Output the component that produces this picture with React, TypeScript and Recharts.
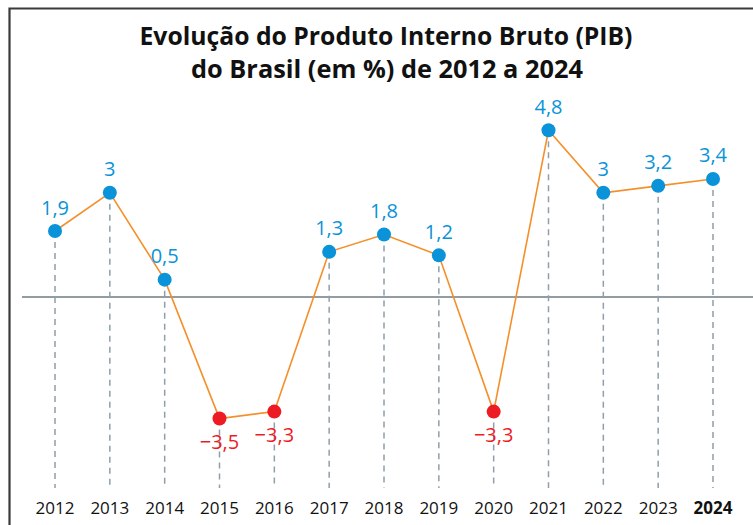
import { LineChart, Line, XAxis, YAxis, ReferenceLine, LabelList } from "recharts";

const years = ["2012", "2013", "2014", "2015", "2016", "2017", "2018", "2019", "2020", "2021", "2022", "2023", "2024"];
const pib = [1.9, 3, 0.5, -3.5, -3.3, 1.3, 1.8, 1.2, -3.3, 4.8, 3, 3.2, 3.4];
const titleLines = ["Evolução do Produto Interno Bruto (PIB)", "do Brasil (em %) de 2012 a 2024"];
const boldYear = "2024";

const W = 753;
const H = 525;
const AXIS_H = 30;
const margin = { top: 106, right: 40, bottom: 7, left: 55 };
const PLOT_BOTTOM = H - margin.bottom - AXIS_H;

const BLUE = "#0a93d8";
const RED = "#ed1c24";
const ORANGE = "#f58f2a";
const DASH = "#8e9fab";

const data = years.map((year, i) => ({ year, value: pib[i] }));

const fmt = (v: number) => (v < 0 ? "\u2212" : "") + String(Math.abs(v)).replace(".", ",");

function DropDot(props: any) {
  const { cx, cy, payload, index } = props;
  const neg = payload.value < 0;
  return (
    <g key={`dot-${index}`}>
      <line x1={cx} x2={cx} y1={cy} y2={PLOT_BOTTOM} stroke={DASH} strokeWidth={1.5} strokeDasharray="6 5" />
      <circle cx={cx} cy={cy} r={7} fill={neg ? RED : BLUE} />
    </g>
  );
}

function ValueLabel(props: any) {
  const { x, y, value, index } = props;
  const neg = value < 0;
  return (
    <text
      key={`lbl-${index}`}
      x={x}
      y={neg ? y + 30 : y - 16.5}
      textAnchor="middle"
      fill={neg ? RED : BLUE}
      fontFamily="'Open Sans', sans-serif"
      fontSize={20}
    >
      {fmt(value)}
    </text>
  );
}

function YearTick(props: any) {
  const { x, y, payload } = props;
  const bold = payload.value === boldYear;
  return (
    <text
      x={x}
      y={y + 26}
      textAnchor="middle"
      fill="#111"
      fontFamily="'Open Sans', sans-serif"
      fontSize={17}
      fontWeight={bold ? 700 : 400}
    >
      {payload.value}
    </text>
  );
}

function ZeroLine(props: any) {
  const { y1 } = props;
  return <line x1={22} x2={W} y1={y1} y2={y1} stroke="#6e7b85" strokeWidth={1.5} />;
}

export default function App() {
  return (
    <div style={{ position: "absolute", left: 0, top: 0, width: W, height: H, background: "#fff" }}>
      <svg width={W} height={H} style={{ position: "absolute", left: 0, top: 0 }}>
        <path d={`M9.5 ${H} V8.5 H${W}`} fill="none" stroke="#3a3a3a" strokeWidth={2.2} />
        <text
          x={386}
          y={45}
          textAnchor="middle"
          fontFamily="'Open Sans', sans-serif"
          fontWeight={700}
          fontSize={25}
          fill="#111"
          textLength={493}
          lengthAdjust="spacingAndGlyphs"
        >
          {titleLines[0]}
        </text>
        <text
          x={387}
          y={78}
          textAnchor="middle"
          fontFamily="'Open Sans', sans-serif"
          fontWeight={700}
          fontSize={25}
          fill="#111"
          textLength={392}
          lengthAdjust="spacingAndGlyphs"
        >
          {titleLines[1]}
        </text>
      </svg>
      <div style={{ position: "absolute", left: 0, top: 0 }}>
        <LineChart width={W} height={H} data={data} margin={margin}>
          <XAxis
            dataKey="year"
            interval={0}
            height={AXIS_H}
            tickLine={false}
            axisLine={false}
            tickSize={0}
            tickMargin={0}
            tick={<YearTick />}
          />
          <YAxis hide domain={[-5.5, 5.5]} />
          <ReferenceLine y={0} ifOverflow="visible" shape={<ZeroLine />} />
          <Line
            dataKey="value"
            stroke={ORANGE}
            strokeWidth={1.6}
            dot={<DropDot />}
            activeDot={false}
            isAnimationActive={false}
          >
            <LabelList dataKey="value" content={<ValueLabel />} />
          </Line>
        </LineChart>
      </div>
    </div>
  );
}
